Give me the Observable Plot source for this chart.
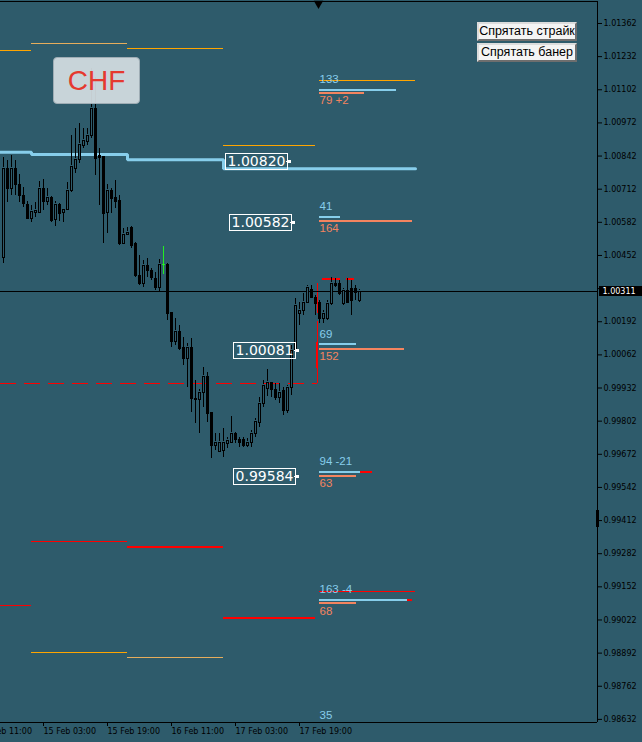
<!DOCTYPE html>
<html><head><meta charset="utf-8">
<script src="https://cdn.jsdelivr.net/npm/d3@7"></script>
<script src="https://cdn.jsdelivr.net/npm/@observablehq/plot@0.6"></script>
<style>
html,body{margin:0;padding:0;background:#2e5b6b;}
#wrap{position:relative;width:642px;height:742px;overflow:hidden;}
#wrap svg{display:block;}
.banner{position:absolute;left:53px;top:57px;width:87px;height:47px;background:rgba(214,222,227,0.92);border:1px solid #9eacb4;border-radius:4px;box-sizing:border-box;color:#e5392f;font:28px "Liberation Sans",Arial,sans-serif;display:flex;align-items:center;justify-content:center;padding-top:1px;}
.btn{position:absolute;left:477px;width:100px;height:19px;box-sizing:border-box;background:#f4f4f4;border-top:2px solid #dcdcdc;border-left:2px solid #dcdcdc;border-right:2px solid #6e6e6e;border-bottom:2px solid #6e6e6e;font:12.5px "Liberation Sans",Arial,sans-serif;color:#000;line-height:15px;white-space:nowrap;overflow:hidden;text-align:center;}
</style></head><body>
<div id="wrap"></div>
<script>
// ---------- data ----------
const opens = [1.00445,1.00792,1.00714,1.00792,1.00729,1.00687,1.00651,1.00598,1.00622,1.00622,
 1.00716,1.00664,1.00681,1.00593,1.00651,1.00619,1.00632,1.00707,1.00794,1.00827,
 1.00883,1.00900,1.00923,1.01029,1.00844,1.00840,1.00621,1.00707,1.00679,1.00668,
 1.00499,1.00534,1.00562,1.00499,1.00373,1.00342,1.00413,1.00393,1.00362,1.00326,
 1.00417,1.00417,1.00228,1.00115,1.00154,1.00091,1.00048,1.00091,0.99891,0.99887,
 0.99914,0.99977,0.99836,0.99707,0.99683,0.99687,0.99714,0.99718,0.99754,0.99730,
 0.99730,0.99707,0.99718,0.99754,0.99797,0.99871,0.99930,0.99954,0.99926,0.99895,
 0.99922,0.99844,0.99934,1.00079,1.00224,1.00236,1.00268,1.00319,1.00287,1.00268,
 1.00205,1.00205,1.00264,1.00342,1.00342,1.00264,1.00315,1.00322,1.00322,1.00275];
const highs = [1.00838,1.00825,1.00844,1.00825,1.00768,1.00720,1.00664,1.00648,1.00659,1.00742,
 1.00749,1.00714,1.00685,1.00664,1.00655,1.00635,1.00739,1.00923,1.00950,1.00970,
 1.00950,1.00950,1.01185,1.01150,1.00872,1.00840,1.00730,1.00715,1.00746,1.00687,
 1.00558,1.00562,1.00566,1.00503,1.00452,1.00432,1.00440,1.00401,1.00385,1.00436,
 1.00487,1.00421,1.00228,1.00205,1.00177,1.00130,1.00107,1.00126,0.99962,0.99926,
 1.00013,0.99993,0.99836,0.99754,0.99754,0.99773,0.99738,0.99820,0.99758,0.99738,
 0.99738,0.99734,0.99765,0.99812,0.99895,0.99962,1.00005,0.99954,0.99950,0.99950,
 0.99934,0.99942,1.00099,1.00283,1.00268,1.00303,1.00334,1.00334,1.00295,1.00275,
 1.00236,1.00275,1.00366,1.00362,1.00354,1.00322,1.00362,1.00354,1.00334,1.00320];
const lows = [1.00419,1.00660,1.00687,1.00687,1.00661,1.00641,1.00593,1.00580,1.00602,1.00615,
 1.00628,1.00648,1.00583,1.00567,1.00585,1.00580,1.00628,1.00700,1.00772,1.00813,
 1.00872,1.00883,1.00911,1.00766,1.00648,1.00499,1.00538,1.00617,1.00636,1.00491,
 1.00495,1.00530,1.00479,1.00366,1.00334,1.00326,1.00366,1.00354,1.00315,1.00307,
 1.00377,1.00197,1.00091,1.00099,1.00079,1.00020,0.99934,0.99836,0.99793,0.99754,
 0.99856,0.99797,0.99656,0.99687,0.99679,0.99659,0.99695,0.99714,0.99714,0.99699,
 0.99699,0.99699,0.99699,0.99738,0.99777,0.99856,0.99899,0.99895,0.99883,0.99871,
 0.99824,0.99832,0.99903,1.00067,1.00177,1.00217,1.00264,1.00283,1.00217,1.00185,
 1.00185,1.00197,1.00256,1.00326,1.00295,1.00256,1.00264,1.00217,1.00275,1.00268];
const closes = [1.00792,1.00714,1.00792,1.00729,1.00687,1.00655,1.00598,1.00624,1.00628,1.00714,
 1.00664,1.00681,1.00589,1.00651,1.00615,1.00631,1.00707,1.00801,1.00827,1.00886,
 1.00903,1.00923,1.01029,1.00832,1.00836,1.00617,1.00707,1.00675,1.00664,1.00499,
 1.00534,1.00542,1.00491,1.00373,1.00342,1.00413,1.00393,1.00366,1.00326,1.00417,
 1.00415,1.00224,1.00115,1.00154,1.00087,1.00048,1.00091,0.99891,0.99887,0.99914,
 0.99977,0.99832,0.99707,0.99718,0.99718,0.99718,0.99726,0.99754,0.99730,0.99718,
 0.99707,0.99718,0.99754,0.99801,0.99871,0.99942,0.99954,0.99926,0.99895,0.99914,
 0.99844,0.99934,1.00079,1.00256,1.00236,1.00268,1.00326,1.00287,1.00264,1.00205,
 1.00224,1.00264,1.00342,1.00334,1.00303,1.00315,1.00268,1.00275,1.00307,1.00311];
const highlightBar = [40];

// time axis (bar index = hourly bar)
const xTicks = [-6, 10, 26, 42, 58, 74];
const xTickLabels = ["14 Feb 11:00","15 Feb 03:00","15 Feb 19:00","16 Feb 11:00","17 Feb 03:00","17 Feb 19:00"];
const yTicks = [1.01362,1.01232,1.01102,1.00972,1.00842,1.00712,1.00582,1.00452,1.00322,1.00192,1.00062,
  0.99932,0.99802,0.99672,0.99542,0.99412,0.99282,0.99152,0.99022,0.98892,0.98762,0.98632];
const yTickHidden = [1.00322]; // covered by the current-price label
const xDomain = [-0.75, 148.5];
const yDomain = [0.986198, 1.014483];

// daily levels
const dayStarts = [-1, 7, 31, 55, 79];
const dayEnds   = [7, 31, 55, 78, 103];
const pivotBlue = [1.00857, 1.00848, 1.00827, 1.00792, 1.00792];
const lineDay   = [0, 2, 1, 3, 4, 1, 2, 0, 1, 4, 2, 3];
const linePrice = [1.01256, 1.01264, 0.98894, 1.00882, 1.01138, 1.01284, 0.98875, 0.99079, 0.99330, 0.99134, 0.99308, 0.99028];
const lineKind  = ["orange","orange","orange","orange","orange","light","light","redThin","redThin","redThin","redThick","redThick"];

// previous range box (dashed)
const rangeLow = [0.99949];
const rangeLowEnd = [78.4];
const rangeTop = [1.00342];
const rangeThick = [1.00111, 1.00009];
const rangeHighLevel = 1.00360;
const rangeHighSpans = [[79.75, 84.25], [85.75, 87.75]];

// strike groups
const groupBlue = [1.01103, 1.00602, 1.00103, 0.99603, 0.99102];
const groupBlueEnd = [98.25, 84.25, 88.25, 89.25, 101];
const groupBlueText = ["133", "41", "69", "94 -21", "163 -4"];
const groupSalmon = [1.01091, 1.00589, 1.00087, 0.99586, 0.99087];
const groupSalmonEnd = [90.25, 102.25, 100.25, 88.25, 88.25];
const groupSalmonText = ["79 +2", "164", "152", "63", "68"];
const groupRedTips = [[0.99603, 89.25, 92.25], [0.99102, 101, 102.25]];
const lowBlueText = ["35"];
const lowBluePrice = [0.98647];

// boxed price labels
const boxPrices = [1.00820, 1.00582, 1.00081, 0.99584];
const boxAnchors = [73.25, 74.25, 75.25, 75.25];

const currentPrice = [1.00311];
const shiftMarker = [78.75];
const axisMarker = [[0.99452, 0.99385]];

// ---------- styles ----------
const bg = "#2e5b6b";
const skyBlue = "#87ceeb";
const salmon = "#f4845f";
const kindColor = {orange: "#ffa500", light: "#e6ad5c", redThin: "#ff0000", redThick: "#ff0000"};
const green = "#22ee22";
const crisp = {shapeRendering: "crispEdges"};

const candles = opens.map((o, i) => ({i, o, h: highs[i], l: lows[i], c: closes[i],
  col: highlightBar.includes(i) ? green : "black"}));
const bulls = candles.filter(d => d.c > d.o);
const dayLines = lineDay.map((d, k) => ({x1: dayStarts[d], x2: dayEnds[d], y: linePrice[k], kind: lineKind[k]}));
const thinLines = dayLines.filter(d => d.kind !== "redThick");
const thickLines = dayLines.filter(d => d.kind === "redThick");
const bluePts = pivotBlue.flatMap((v, k) => [{x: dayStarts[k], y: v}, {x: dayEnds[k], y: v}]);
const groups = groupBlue.map((b, k) => ({b, be: groupBlueEnd[k], bt: groupBlueText[k], s: groupSalmon[k], se: groupSalmonEnd[k], st: groupSalmonText[k]}));
const gStart = dayStarts[4];

const chart = Plot.plot({
  width: 642, height: 742,
  marginLeft: 0, marginRight: 45, marginTop: 1, marginBottom: 20,
  x: {domain: xDomain, axis: null},
  y: {domain: yDomain, axis: null},
  color: {type: "identity"},
  style: {background: bg, color: "black", fontFamily: "'DejaVu Sans', sans-serif", fontSize: "8px"},
  marks: [
    // daily lines
    Plot.ruleY(thinLines, {y: "y", x1: "x1", x2: "x2", stroke: d => kindColor[d.kind], strokeWidth: 1, ...crisp}),
    Plot.ruleY(thickLines, {y: "y", x1: "x1", x2: "x2", stroke: d => kindColor[d.kind], strokeWidth: 2, ...crisp}),
    Plot.line(bluePts, {x: "x", y: "y", stroke: skyBlue, strokeWidth: 3, strokeLinejoin: "miter"}),
    // dashed range
    Plot.ruleY(rangeLow, {y: d => d, x1: xDomain[0], x2: d => rangeLowEnd[0], stroke: "#ff0000", strokeDasharray: "16,8", ...crisp}),
    Plot.ruleX(rangeLowEnd, {x: d => d, y1: rangeTop[0], y2: rangeLow[0], stroke: "#ff0000", strokeDasharray: "30,8", ...crisp}),
    Plot.ruleX(rangeLowEnd, {x: d => d, y1: rangeThick[0], y2: rangeThick[1], stroke: "#ff0000", strokeWidth: 2, ...crisp}),
    Plot.ruleY(rangeHighSpans, {y: () => rangeHighLevel, x1: d => d[0], x2: d => d[1], stroke: "#ff0000", strokeWidth: 2, ...crisp}),
    // current price line
    Plot.ruleY(currentPrice, {y: d => d, stroke: "black", ...crisp}),
    // candles
    Plot.ruleX(candles, {x: "i", y1: "l", y2: "h", stroke: "col", ...crisp}),
    Plot.ruleX(candles, {x: "i", y1: "o", y2: "c", stroke: "col", strokeWidth: 3, ...crisp}),
    Plot.ruleX(bulls, {x: "i", y1: "o", y2: "c", stroke: bg, strokeWidth: 1, insetTop: 1, insetBottom: 1, ...crisp}),
    Plot.ruleY(candles, {y: "o", x1: d => d.i - 0.375, x2: d => d.i + 0.375, stroke: "col", ...crisp}),
    Plot.ruleY(candles, {y: "c", x1: d => d.i - 0.375, x2: d => d.i + 0.375, stroke: "col", ...crisp}),
    // strike groups
    Plot.ruleY(groups, {y: "b", x1: () => gStart, x2: "be", stroke: skyBlue, strokeWidth: 2, ...crisp}),
    Plot.ruleY(groups, {y: "s", x1: () => gStart, x2: "se", stroke: salmon, strokeWidth: 2, ...crisp}),
    Plot.ruleY(groupRedTips, {y: d => d[0], x1: d => d[1], x2: d => d[2], stroke: "#ff0000", strokeWidth: 2, ...crisp}),
    Plot.text(groups, {x: () => gStart, y: "b", text: "bt", fill: skyBlue, textAnchor: "start", dy: -10.5, fontSize: 11.5, fontFamily: "'Liberation Sans', Arial, sans-serif"}),
    Plot.text(groups, {x: () => gStart, y: "s", text: "st", fill: salmon, textAnchor: "start", dy: 7.5, fontSize: 11.5, fontFamily: "'Liberation Sans', Arial, sans-serif"}),
    Plot.text(lowBlueText, {x: () => gStart, y: (d, k) => lowBluePrice[k], text: d => d, fill: skyBlue, textAnchor: "start", fontSize: 11.5, fontFamily: "'Liberation Sans', Arial, sans-serif"}),
    // boxed price labels
    Plot.text(boxPrices, {x: (d, k) => boxAnchors[k], y: d => d, text: d => d.toFixed(5), textAnchor: "end", dx: -11, fill: "white", fontSize: 14, fontFamily: "'DejaVu Sans', sans-serif"}),
    // frame
    Plot.ruleY([yDomain[1]], {stroke: "black", ...crisp}),
    Plot.ruleY([yDomain[0]], {stroke: "black", ...crisp}),
    Plot.ruleX([xDomain[1]], {stroke: "black", ...crisp}),
    Plot.ruleX(axisMarker, {x: () => xDomain[1], y1: d => d[0], y2: d => d[1], stroke: "black", strokeWidth: 3, ...crisp}),
    // axes
    Plot.axisY(yTicks, {anchor: "right", tickSize: 4, tickPadding: 2, tickFormat: d => yTickHidden.includes(d) ? "" : d.toFixed(5), fontSize: 8}),
    Plot.axisX(xTicks, {anchor: "bottom", tickSize: 4, tickPadding: 2, textAnchor: "start", tickFormat: d => xTickLabels[xTicks.indexOf(d)], fontSize: 8}),
    // current price label
    Plot.text(currentPrice, {y: d => d, frameAnchor: "right", text: d => d.toFixed(5), textAnchor: "start", dx: 5, fill: "white", fontSize: 8}),
    // chart shift marker
    Plot.dot(shiftMarker, {x: d => d, frameAnchor: "top", symbol: "triangle", r: 3.5, rotate: 180, fill: "black", stroke: null, dy: 2})
  ]
});

const wrap = document.getElementById("wrap");
wrap.appendChild(chart);

// decorate price labels with boxes
const NS = "http://www.w3.org/2000/svg";
const boxSet = new Set(boxPrices.map(d => d.toFixed(5)));
const curText = currentPrice[0].toFixed(5);
chart.querySelectorAll("text").forEach(t => {
  const g = t.closest("g[aria-label]");
  const lab = g ? (g.getAttribute("aria-label") || "") : "";
  if (lab.includes("axis")) return;
  const s = t.textContent;
  if (!boxSet.has(s) && s !== curText) return;
  const b = t.getBBox();
  const tr = t.getAttribute("transform");
  const ax = tr ? 0 : parseFloat(t.getAttribute("x") || 0);
  const ay = tr ? 0 : parseFloat(t.getAttribute("y") || 0);
  const mk = (tag, attrs) => {
    const e = document.createElementNS(NS, tag);
    if (tr) e.setAttribute("transform", tr);
    for (const k in attrs) e.setAttribute(k, attrs[k]);
    e.setAttribute("shape-rendering", "crispEdges");
    t.parentNode.insertBefore(e, t);
    return e;
  };
  if (boxSet.has(s)) {
    mk("rect", {x: b.x - 2, y: b.y + 0.5, width: b.width + 4, height: b.height, fill: "none", stroke: "white"});
    const rx = b.x + b.width + 2;
    mk("line", {x1: rx, x2: ax, y1: ay, y2: ay, stroke: "white"});
    mk("rect", {x: rx, y: ay - 1.5, width: 3, height: 3, fill: "white"});
  } else {
    mk("rect", {x: b.x - 4, y: b.y - 0.5, width: 60, height: b.height + 1, fill: "black"});
  }
});

// overlays: banner and buttons
const banner = document.createElement("div");
banner.className = "banner"; banner.textContent = "CHF";
wrap.appendChild(banner);
const btnLabels = ["Спрятать страйк", "Спрятать банер"];
btnLabels.forEach((txt, k) => {
  const b = document.createElement("div");
  b.className = "btn"; b.textContent = txt;
  b.style.top = (22 + k * 21) + "px";
  wrap.appendChild(b);
});
</script>
</body></html>
